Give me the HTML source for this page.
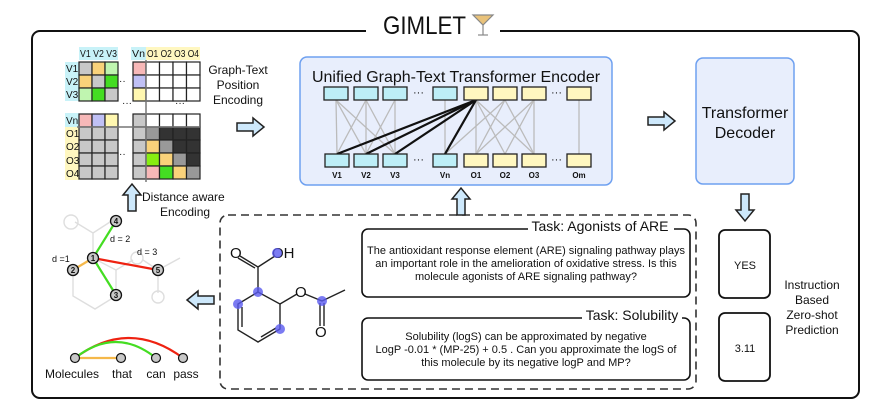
<!DOCTYPE html>
<html><head><meta charset="utf-8"><style>
html,body{margin:0;padding:0;background:#fff;}
svg{display:block;font-family:"Liberation Sans","DejaVu Sans",sans-serif;}
</style></head><body>
<svg width="875" height="407" viewBox="0 0 875 407" xmlns="http://www.w3.org/2000/svg">
<defs>
<g id="ar"><path d="M0,-4 H16 V-9 L27,0 L16,9 V4 H0 Z" fill="#cde8fb" stroke="#222" stroke-width="1.5"/></g>
</defs>
<!-- outer -->
<rect x="32" y="31" width="827" height="367" rx="8" fill="#fff" stroke="#111" stroke-width="2"/>
<rect x="366" y="20" width="134" height="18" fill="#fff"/>
<text x="383" y="34" font-size="25" textLength="83" lengthAdjust="spacingAndGlyphs" fill="#111">GIMLET</text>
<g stroke="#888" stroke-width="1.2" fill="#e9c27a"><path d="M473,15 L493,15 L483,25 Z"/><line x1="483" y1="25" x2="483" y2="35"/><line x1="478" y1="35" x2="488" y2="35"/></g>

<!-- matrix -->
<g font-size="10" fill="#111">
<rect x="79" y="47" width="39" height="13" fill="#c8f2f8"/><text x="80" y="57" textLength="37" lengthAdjust="spacingAndGlyphs">V1 V2 V3</text>
<rect x="131" y="47" width="15" height="13" fill="#c8f2f8"/><text x="132" y="57" textLength="13" lengthAdjust="spacingAndGlyphs">Vn</text>
<rect x="146" y="47" width="54" height="13" fill="#fff7c0"/><text x="147" y="57" textLength="52" lengthAdjust="spacingAndGlyphs">O1 O2 O3 O4</text>
<rect x="65" y="62" width="14" height="39" fill="#c8f2f8"/>
<text x="66" y="72">V1</text><text x="66" y="85">V2</text><text x="66" y="98">V3</text>
<rect x="65" y="113" width="14" height="14" fill="#c8f2f8"/><text x="66" y="124">Vn</text>
<rect x="65" y="127" width="14" height="53" fill="#fff7c0"/>
<text x="66" y="137">O1</text><text x="66" y="150">O2</text><text x="66" y="164">O3</text><text x="66" y="177">O4</text>
<text x="122" y="106" font-size="10">···</text><text x="175" y="106">···</text>
<text x="119" y="84">··</text><text x="119" y="157">··</text>
</g>
<g stroke="#222" stroke-width="1.2">
<rect x="79" y="62" width="13" height="13" fill="#c8c8c8"/><rect x="92" y="62" width="13" height="13" fill="#f9d27a"/><rect x="105" y="62" width="13" height="13" fill="#c0f5b0"/>
<rect x="79" y="75" width="13" height="13" fill="#f9d27a"/><rect x="92" y="75" width="13" height="13" fill="#c8c8c8"/><rect x="105" y="75" width="13" height="13" fill="#44dd22"/>
<rect x="79" y="88" width="13" height="13" fill="#c0f5b0"/><rect x="92" y="88" width="13" height="13" fill="#44dd22"/><rect x="105" y="88" width="13" height="13" fill="#c8c8c8"/>
<rect x="133" y="62" width="13" height="13" fill="#f7b8b8"/><rect x="133" y="75" width="13" height="13" fill="#c0c0f5"/><rect x="133" y="88" width="13" height="13" fill="#fff7b0"/>
<g fill="#fff">
<rect x="146" y="62" width="13.5" height="13"/><rect x="159.5" y="62" width="13.5" height="13"/><rect x="173" y="62" width="13.5" height="13"/><rect x="186.5" y="62" width="13.5" height="13"/>
<rect x="146" y="75" width="13.5" height="13"/><rect x="159.5" y="75" width="13.5" height="13"/><rect x="173" y="75" width="13.5" height="13"/><rect x="186.5" y="75" width="13.5" height="13"/>
<rect x="146" y="88" width="13.5" height="13"/><rect x="159.5" y="88" width="13.5" height="13"/><rect x="173" y="88" width="13.5" height="13"/><rect x="186.5" y="88" width="13.5" height="13"/>
<rect x="146" y="114" width="13.5" height="13"/><rect x="159.5" y="114" width="13.5" height="13"/><rect x="173" y="114" width="13.5" height="13"/><rect x="186.5" y="114" width="13.5" height="13"/>
</g>
<rect x="79" y="114" width="13" height="13" fill="#f7b8b8"/><rect x="92" y="114" width="13" height="13" fill="#c0c0f5"/><rect x="105" y="114" width="13" height="13" fill="#fff7b0"/>
<rect x="133" y="114" width="13" height="13" fill="#c8c8c8"/>
<g fill="#c8c8c8">
<rect x="79" y="127" width="13" height="13"/><rect x="92" y="127" width="13" height="13"/><rect x="105" y="127" width="13" height="13"/>
<rect x="79" y="140" width="13" height="13"/><rect x="92" y="140" width="13" height="13"/><rect x="105" y="140" width="13" height="13"/>
<rect x="79" y="153" width="13" height="13"/><rect x="92" y="153" width="13" height="13"/><rect x="105" y="153" width="13" height="13"/>
<rect x="79" y="166" width="13" height="13"/><rect x="92" y="166" width="13" height="13"/><rect x="105" y="166" width="13" height="13"/>
<rect x="133" y="127" width="13" height="13"/><rect x="133" y="140" width="13" height="13"/><rect x="133" y="153" width="13" height="13"/><rect x="133" y="166" width="13" height="13"/>
</g>
<rect x="146" y="127" width="13.5" height="13" fill="#999"/><rect x="159.5" y="127" width="13.5" height="13" fill="#333"/><rect x="173" y="127" width="13.5" height="13" fill="#333"/><rect x="186.5" y="127" width="13.5" height="13" fill="#333"/>
<rect x="146" y="140" width="13.5" height="13" fill="#f9d27a"/><rect x="159.5" y="140" width="13.5" height="13" fill="#999"/><rect x="173" y="140" width="13.5" height="13" fill="#333"/><rect x="186.5" y="140" width="13.5" height="13" fill="#333"/>
<rect x="146" y="153" width="13.5" height="13" fill="#88ee11"/><rect x="159.5" y="153" width="13.5" height="13" fill="#f9d27a"/><rect x="173" y="153" width="13.5" height="13" fill="#999"/><rect x="186.5" y="153" width="13.5" height="13" fill="#333"/>
<rect x="146" y="166" width="13.5" height="13" fill="#f7b8b8"/><rect x="159.5" y="166" width="13.5" height="13" fill="#44dd22"/><rect x="173" y="166" width="13.5" height="13" fill="#f9d27a"/><rect x="186.5" y="166" width="13.5" height="13" fill="#999"/>
</g>
<line x1="146" y1="60" x2="146" y2="182" stroke="#777" stroke-width="1.5"/>
<line x1="77" y1="127" x2="201" y2="127" stroke="#777" stroke-width="1.5"/>
<g font-size="12" fill="#111" text-anchor="middle">
<text x="238" y="74">Graph-Text</text><text x="238" y="89">Position</text><text x="238" y="104">Encoding</text>
</g>
<use href="#ar" x="237" y="127"/>

<!-- encoder -->
<rect x="300" y="57" width="312" height="128" rx="7" fill="#e8eefc" stroke="#6ea0f0" stroke-width="1.5"/>
<text x="456" y="82" font-size="16" text-anchor="middle" fill="#111">Unified Graph-Text Transformer Encoder</text>
<g stroke="#bbb" stroke-width="1.3">
<line x1="336" y1="100" x2="337" y2="154"/><line x1="336" y1="100" x2="366" y2="154"/><line x1="336" y1="100" x2="395" y2="154"/>
<line x1="366" y1="100" x2="337" y2="154"/><line x1="366" y1="100" x2="366" y2="154"/><line x1="366" y1="100" x2="395" y2="154"/>
<line x1="395" y1="100" x2="366" y2="154"/><line x1="395" y1="100" x2="395" y2="154"/>
<line x1="445" y1="100" x2="445" y2="154"/>
<line x1="505" y1="100" x2="476" y2="154"/><line x1="505" y1="100" x2="534" y2="154"/><line x1="505" y1="100" x2="445" y2="154"/>
<line x1="534" y1="100" x2="476" y2="154"/><line x1="534" y1="100" x2="505" y2="154"/><line x1="534" y1="100" x2="534" y2="154"/>
<line x1="476" y1="100" x2="505" y2="154"/><line x1="476" y1="100" x2="534" y2="154"/><line x1="476" y1="100" x2="476" y2="154"/>
<line x1="579" y1="100" x2="579" y2="154"/>
</g>
<g stroke="#111" stroke-width="2.2">
<line x1="476" y1="100" x2="337" y2="154"/><line x1="476" y1="100" x2="366" y2="154"/><line x1="476" y1="100" x2="395" y2="154"/><line x1="476" y1="100" x2="445" y2="154"/>
</g>
<g stroke="#222" stroke-width="1.3">
<g fill="#bdeef7">
<rect x="324" y="87" width="24" height="13"/><rect x="354" y="87" width="24" height="13"/><rect x="383" y="87" width="24" height="13"/><rect x="433" y="87" width="24" height="13"/>
<rect x="325" y="154" width="24" height="13"/><rect x="354" y="154" width="24" height="13"/><rect x="383" y="154" width="24" height="13"/><rect x="433" y="154" width="24" height="13"/>
</g>
<g fill="#fff7c0">
<rect x="464" y="87" width="24" height="13"/><rect x="493" y="87" width="24" height="13"/><rect x="522" y="87" width="24" height="13"/><rect x="567" y="87" width="24" height="13"/>
<rect x="464" y="154" width="24" height="13"/><rect x="493" y="154" width="24" height="13"/><rect x="522" y="154" width="24" height="13"/><rect x="567" y="154" width="24" height="13"/>
</g>
</g>
<g font-size="11" fill="#111"><text x="413" y="96">···</text><text x="551" y="96">···</text><text x="413" y="163">···</text><text x="551" y="163">···</text></g>
<g font-size="8" font-weight="bold" fill="#111" text-anchor="middle">
<text x="337" y="178">V1</text><text x="366" y="178">V2</text><text x="395" y="178">V3</text><text x="445" y="178">Vn</text>
<text x="476" y="178">O1</text><text x="505" y="178">O2</text><text x="534" y="178">O3</text><text x="579" y="178">Om</text>
</g>
<use href="#ar" x="648" y="121"/>

<!-- decoder -->
<rect x="696" y="58" width="98" height="126" rx="7" fill="#e8eefc" stroke="#6ea0f0" stroke-width="1.5"/>
<g font-size="16" fill="#111" text-anchor="middle"><text x="745" y="118">Transformer</text><text x="745" y="138">Decoder</text></g>
<use href="#ar" transform="translate(745,194) rotate(90)"/>
<rect x="719" y="230" width="51" height="68" rx="6" fill="#fff" stroke="#111" stroke-width="1.8"/>
<rect x="719" y="313" width="51" height="68" rx="6" fill="#fff" stroke="#111" stroke-width="1.8"/>
<g font-size="11" fill="#111" text-anchor="middle"><text x="745" y="269">YES</text><text x="745" y="352">3.11</text></g>
<g font-size="12" fill="#111" text-anchor="middle"><text x="812" y="289">Instruction</text><text x="812" y="304">Based</text><text x="812" y="319">Zero-shot</text><text x="812" y="334">Prediction</text></g>

<!-- dashed -->
<rect x="220" y="215" width="476" height="174" rx="8" fill="none" stroke="#333" stroke-width="1.6" stroke-dasharray="8,5"/>
<use href="#ar" transform="translate(461,215) rotate(-90)"/>
<rect x="362" y="229" width="328" height="68" rx="6" fill="#fff" stroke="#111" stroke-width="1.6"/>
<rect x="528" y="220" width="146" height="12" fill="#fff"/>
<text x="600" y="231" font-size="14" text-anchor="middle" fill="#111">Task: Agonists of ARE</text>
<rect x="362" y="318" width="328" height="62" rx="6" fill="#fff" stroke="#111" stroke-width="1.6"/>
<rect x="582" y="309" width="100" height="12" fill="#fff"/>
<text x="632" y="320" font-size="14" text-anchor="middle" fill="#111">Task: Solubility</text>
<g font-size="11" fill="#111" text-anchor="middle">
<text x="526" y="254">The antioxidant response element (ARE) signaling pathway plays</text>
<text x="526" y="267">an important role in the amelioration of oxidative stress. Is this</text>
<text x="526" y="280">molecule agonists of ARE signaling pathway?</text>
<text x="526" y="340">Solubility (logS) can be approximated by negative</text>
<text x="526" y="353">LogP -0.01 * (MP-25) + 0.5 . Can you approximate the logS of</text>
<text x="526" y="366">this molecule by its negative logP and MP?</text>
</g>

<!-- molecule right -->
<g stroke="#222" stroke-width="1.4" fill="none">
<path d="M258,292 L238,304 L238,330 L258,342 L280,329 L280,304 Z"/>
<path d="M242,307 L242,327 M261,337 L276,328"/>
<path d="M258,292 L258,267 L240,256 M255,268 L238,258 M258,267 L275,256"/>
<path d="M280,304 L297,294 M305,294 L322,301 L345,290 M320,303 L320,326 M324,303 L324,326"/>
</g>
<g font-size="15" fill="#111"><text x="230" y="258">O</text><text x="272" y="258">OH</text><text x="295" y="297">O</text><text x="315" y="337">O</text></g>
<g fill="#5b5bf0" opacity="0.8"><circle cx="258" cy="292" r="5"/><circle cx="238" cy="304" r="5"/><circle cx="280" cy="329" r="5"/><circle cx="322" cy="301" r="5"/><circle cx="277" cy="253" r="5"/></g>
<use href="#ar" transform="translate(214,300) rotate(180)"/>

<!-- left graph -->
<g stroke="#dedede" stroke-width="1.4" fill="none">
<path d="M93,258 L73,270 L73,296 L95,309 L116,296 L116,270 Z"/>
<path d="M93,258 L93,233 L75,222 M93,233 L110,222"/>
<path d="M116,270 L133,260 M143,260 L158,270 L180,258 M158,270 L158,293"/>
<circle cx="71" cy="222" r="7"/><circle cx="137" cy="258" r="6"/><circle cx="158" cy="297" r="6"/>
</g>
<g stroke-width="2.2"><line x1="93" y1="258" x2="116" y2="221" stroke="#44dd22"/><line x1="93" y1="258" x2="116" y2="295" stroke="#44dd22"/><line x1="93" y1="258" x2="73" y2="270" stroke="#f5b84a"/><line x1="93" y1="258" x2="158" y2="270" stroke="#ee2211"/></g>
<g stroke="#111" stroke-width="1.3" fill="#c8c8c8"><circle cx="116" cy="221" r="5.5"/><circle cx="93" cy="258" r="5.5"/><circle cx="73" cy="270" r="5.5"/><circle cx="116" cy="295" r="5.5"/><circle cx="158" cy="270" r="5.5"/></g>
<g font-size="8" font-weight="bold" fill="#111" text-anchor="middle"><text x="116" y="224">4</text><text x="93" y="261">1</text><text x="73" y="273">2</text><text x="116" y="298">3</text><text x="158" y="273">5</text></g>
<g font-size="9" fill="#111"><text x="110" y="242">d = 2</text><text x="52" y="262">d =1</text><text x="137" y="255">d = 3</text></g>
<use href="#ar" transform="translate(132,211) rotate(-90)"/>
<g font-size="12" fill="#111"><text x="142" y="201">Distance aware</text><text x="160" y="216">Encoding</text></g>

<!-- words -->
<path d="M75,358 Q129,318 183,358" stroke="#ee2211" stroke-width="2.2" fill="none"/>
<path d="M75,358 Q116,326 156,358" stroke="#44dd22" stroke-width="2.2" fill="none"/>
<line x1="75" y1="358" x2="121" y2="358" stroke="#f5b84a" stroke-width="2.2"/>
<g stroke="#111" stroke-width="1.2" fill="#c8c8c8"><circle cx="75" cy="358" r="4.5"/><circle cx="121" cy="358" r="4.5"/><circle cx="156" cy="358" r="4.5"/><circle cx="183" cy="358" r="4.5"/></g>
<g font-size="12" fill="#111" text-anchor="middle"><text x="72" y="378">Molecules</text><text x="122" y="378">that</text><text x="156" y="378">can</text><text x="186" y="378">pass</text></g>
</svg>
</body></html>
